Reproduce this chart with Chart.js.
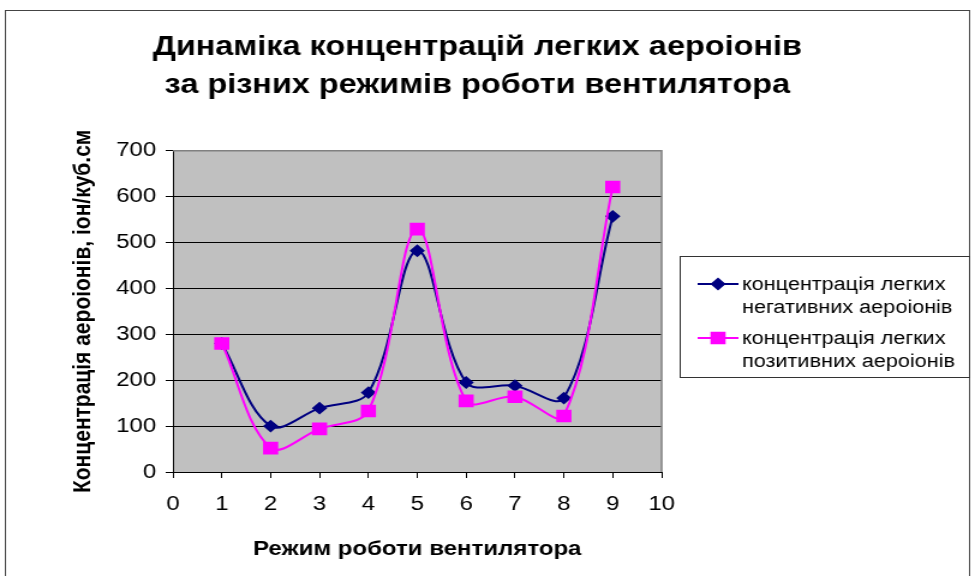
<!DOCTYPE html>
<html>
<head>
<meta charset="utf-8">
<script src="https://cdn.jsdelivr.net/npm/chart.js@4.4.0/dist/chart.umd.min.js"></script>
<style>
  html, body { margin: 0; padding: 0; background: #fff; overflow: hidden; }
</style>
</head>
<body>
<!-- the original picture is stretched sideways, so the canvas is drawn narrower and widened by CSS -->
<canvas id="chart" width="812" height="576" style="width:975px;height:576px;display:block"></canvas>
<script>
// Дані графіка
const modes = [1, 2, 3, 4, 5, 6, 7, 8, 9];
const negativeIons = [280, 100, 139, 173, 482, 195, 188, 161, 557];
const positiveIons = [280, 52, 94, 133, 529, 155, 164, 122, 621];

const titleLines = ["Динаміка концентрацій легких аероіонів", "за різних режимів роботи вентилятора"];
const xTitle = "Режим роботи вентилятора";
const yTitle = "Концентрація аероіонів, іон/куб.см";
const legendNegative = ["концентрація легких", "негативних аероіонів"];
const legendPositive = ["концентрація легких", "позитивних аероіонів"];

const FONT = "'Liberation Sans', Arial, sans-serif";
const toPoints = (ys) => modes.map((x, i) => ({ x, y: ys[i] }));

// Фон, рамки і легенда
const framePlugin = {
    id: "frame",
    beforeDraw(chart) {
        const c = chart.ctx;
        const a = chart.chartArea;
        c.save();
        c.fillStyle = "#fff";
        c.fillRect(0, 0, chart.width, chart.height);
        c.strokeStyle = "#444";
        c.lineWidth = 1;
        c.strokeRect(4.5, 10.5, 803, 600);
        c.fillStyle = "#c0c0c0";
        c.fillRect(a.left, a.top, a.right - a.left, a.bottom - a.top);
        c.restore();
    },
    afterDraw(chart) {
        const c = chart.ctx;
        const a = chart.chartArea;
        c.save();
        c.strokeStyle = "#808080";
        c.lineWidth = 1.5;
        c.beginPath();
        c.moveTo(a.left, a.top);
        c.lineTo(a.right, a.top);
        c.lineTo(a.right, a.bottom);
        c.stroke();

        // легенда
        const bx = 566.5, by = 256.5, bw = 241, bh = 121;
        c.fillStyle = "#fff";
        c.fillRect(bx, by, bw, bh);
        c.strokeStyle = "#333";
        c.lineWidth = 1;
        c.strokeRect(bx, by, bw, bh);

        c.font = "18px " + FONT;
        c.textBaseline = "middle";
        const entries = [
            { ds: chart.data.datasets[0], lines: legendNegative, y: 284 },
            { ds: chart.data.datasets[1], lines: legendPositive, y: 338 },
        ];
        entries.forEach((e) => {
            c.strokeStyle = e.ds.borderColor;
            c.lineWidth = 2;
            c.beginPath();
            c.moveTo(581, e.y);
            c.lineTo(615, e.y);
            c.stroke();
            c.beginPath();
            Chart.helpers.drawPoint(c, {
                pointStyle: e.ds.pointStyle,
                radius: e.ds.pointRadius,
                borderWidth: 1,
            }, 598, e.y);
            c.fillStyle = e.ds.pointBackgroundColor;
            c.fill();
            c.fillStyle = "#000";
            e.lines.forEach((t, i) => c.fillText(t, 618, e.y + 1 + i * 23));
        });
        c.restore();
    },
};

const chart = new Chart(document.getElementById("chart").getContext("2d"), {
    type: "line",
    data: {
        datasets: [
            {
                label: legendNegative.join(" "),
                data: toPoints(negativeIons),
                borderColor: "#000080",
                backgroundColor: "#000080",
                pointBackgroundColor: "#000080",
                pointBorderColor: "#000080",
                pointStyle: "rectRot",
                pointRadius: 5,
                borderWidth: 2,
                tension: 0.35,
                order: 1,
            },
            {
                label: legendPositive.join(" "),
                data: toPoints(positiveIons),
                borderColor: "#ff00ff",
                backgroundColor: "#ff00ff",
                pointBackgroundColor: "#ff00ff",
                pointBorderColor: "#ff00ff",
                pointStyle: "rect",
                pointRadius: 7.5,
                borderWidth: 2,
                tension: 0.35,
                order: 0,
            },
        ],
    },
    options: {
        responsive: false,
        animation: false,
        layout: { padding: { left: 57, right: 74, top: 10, bottom: 0 } },
        plugins: {
            legend: { display: false },
            tooltip: { enabled: false },
            title: {
                display: true,
                text: titleLines,
                color: "#000",
                font: { family: FONT, size: 27, weight: "bold", lineHeight: 1.42 },
                padding: { top: 18, bottom: 46 },
            },
        },
        scales: {
            x: {
                type: "linear",
                min: 0,
                max: 10,
                afterFit: (s) => { s.height = 104; },
                ticks: {
                    stepSize: 1,
                    color: "#000",
                    padding: 14,
                    font: { family: FONT, size: 20 },
                },
                grid: { drawOnChartArea: false, color: "#000", tickLength: 6 },
                border: { color: "#000", width: 1 },
                title: {
                    display: true,
                    text: xTitle,
                    color: "#000",
                    font: { family: FONT, size: 20, weight: "bold", lineHeight: 1.2 },
                    padding: { top: 0, bottom: 15 },
                },
            },
            y: {
                min: 0,
                max: 700,
                afterFit: (s) => { s.width = 87; },
                ticks: {
                    stepSize: 100,
                    color: "#000",
                    padding: 8,
                    font: { family: FONT, size: 20 },
                },
                grid: { color: "#000", tickLength: 6 },
                border: { color: "#000", width: 1 },
                title: {
                    display: true,
                    text: yTitle,
                    color: "#000",
                    font: { family: FONT, size: 21, weight: "bold", lineHeight: 1.2 },
                    padding: { top: 0, bottom: 0 },
                },
            },
            yR: {
                position: "right",
                display: true,
                afterFit: (s) => { s.width = 187; },
                ticks: { display: false },
                grid: { display: false },
                border: { display: false },
            },
        },
    },
    plugins: [framePlugin],
});
</script>
</body>
</html>
